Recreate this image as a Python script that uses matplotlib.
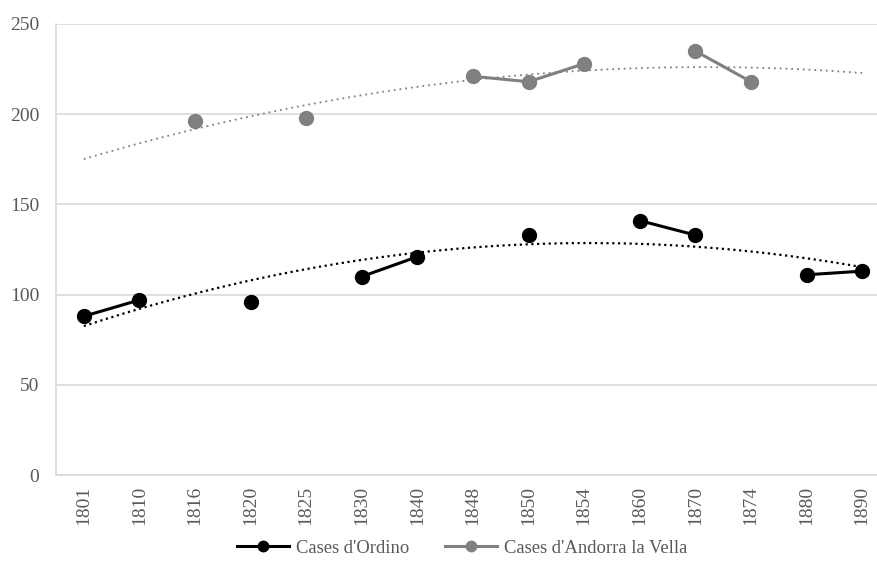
import numpy as np
import matplotlib.pyplot as plt

years = ['1801', '1810', '1816', '1820', '1825', '1830', '1840', '1848',
         '1850', '1854', '1860', '1870', '1874', '1880', '1890']
nan = np.nan
ordino = [88, 97, nan, 96, nan, 110, 121, nan, 133, nan, 141, 133, nan, 111, 113]
andorra = [nan, nan, 196, nan, 198, nan, nan, 221, 218, 228, nan, 235, 218, nan, nan]

plt.rcParams['font.family'] = ['Liberation Serif', 'DejaVu Serif']

fig = plt.figure(figsize=(8.77, 5.67), dpi=100)
ax = fig.add_axes([56 / 877, 1 - 475 / 567, (890 - 56) / 877, (475 - 24) / 567])

x = np.arange(len(years))
grid_c = '#d9d9d9'
text_c = '#595959'

def trend(vals):
    v = np.array(vals, dtype=float)
    m = ~np.isnan(v)
    coef = np.polyfit(x[m] + 1, v[m], 2)
    xs = np.linspace(0, len(years) - 1, 200)
    return xs, np.polyval(coef, xs + 1)

# polynomial trendlines (order 2), drawn under the series
xs, ys = trend(ordino)
ax.plot(xs, ys, color='black', lw=1.6, ls=(0, (1, 1.6)), zorder=2)
xs, ys = trend(andorra)
ax.plot(xs, ys, color='#808080', lw=1.3, ls=(0, (1, 2.2)), zorder=2)

ax.plot(x, ordino, color='black', lw=2.2, marker='o', ms=10,
        label="Cases d'Ordino", zorder=4)
ax.plot(x, andorra, color='#808080', lw=2.2, marker='o', ms=10,
        label="Cases d'Andorra la Vella", zorder=3)

ax.set_xlim(-0.5, len(years) - 0.5)
ax.set_ylim(0, 250)
ax.set_yticks(range(0, 251, 50))
ax.set_xticks(x)
ax.set_xticklabels(years, rotation=90)
ax.tick_params(axis='both', length=0, labelsize=14, colors=text_c)
ax.tick_params(axis='y', pad=12)
ax.tick_params(axis='x', pad=8)

ax.grid(axis='y', color=grid_c, lw=1.2)
ax.set_axisbelow(True)
for s in ['top', 'right']:
    ax.spines[s].set_visible(False)
ax.spines['left'].set_color(grid_c)
ax.spines['bottom'].set_color(grid_c)
ax.spines['left'].set_linewidth(1.2)
ax.spines['bottom'].set_linewidth(1.2)

fig.legend(loc='center', bbox_to_anchor=(462 / 877, 1 - 548 / 567), ncol=2,
           frameon=False, fontsize=13.4, handlelength=2.8, columnspacing=1.95,
           handletextpad=0.37, markerscale=0.75, labelcolor=text_c)

fig.savefig('out.png', dpi=100)
